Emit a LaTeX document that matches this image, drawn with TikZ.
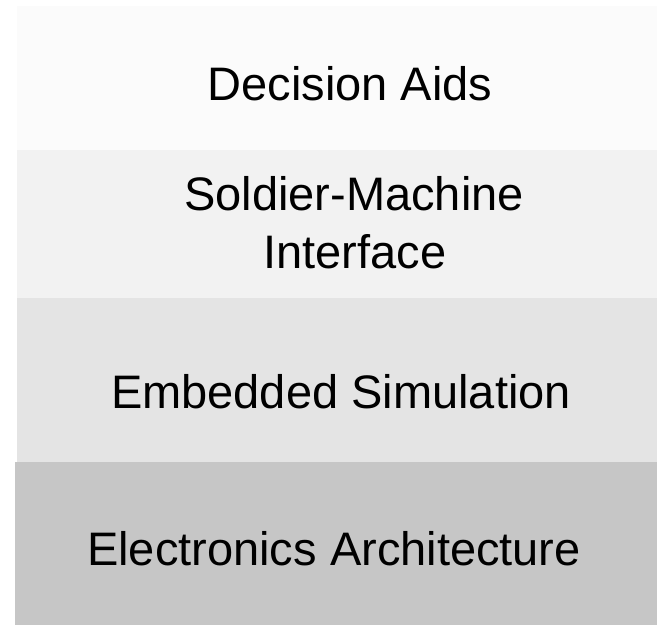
\documentclass[tikz,border=0pt]{standalone}
\usepackage{fontspec}
\setmainfont{Liberation Sans}
\definecolor{bandA}{HTML}{FBFBFB}
\definecolor{bandB}{HTML}{F2F2F2}
\definecolor{bandC}{HTML}{E4E4E4}
\definecolor{bandD}{HTML}{C6C6C6}
\begin{document}
\begin{tikzpicture}[x=1pt,y=-1pt,
  band/.style={draw=none},
  lbl/.style={anchor=base,inner sep=0pt,font=\fontsize{47}{57}\selectfont,text=black}]
\useasboundingbox (0,0) rectangle (657,625);
\fill[white] (0,0) rectangle (657,625);
\fill[bandA] (17,6) rectangle (657,150);
\fill[bandB] (17,150) rectangle (657,298);
\fill[bandC] (17,298) rectangle (657,462);
\fill[bandD] (15,462) rectangle (657,625);
\node[lbl] (da) at (350,100) {Decision Aids};
\node[lbl] (sm) at (354,210) {Soldier-Machine};
\node[lbl] (if) at (355,268) {Interface};
\node[lbl] (es) at (341,408) {Embedded Simulation};
\node[lbl] (ea) at (334,565) {Electronics Architecture};
\end{tikzpicture}
\end{document}
